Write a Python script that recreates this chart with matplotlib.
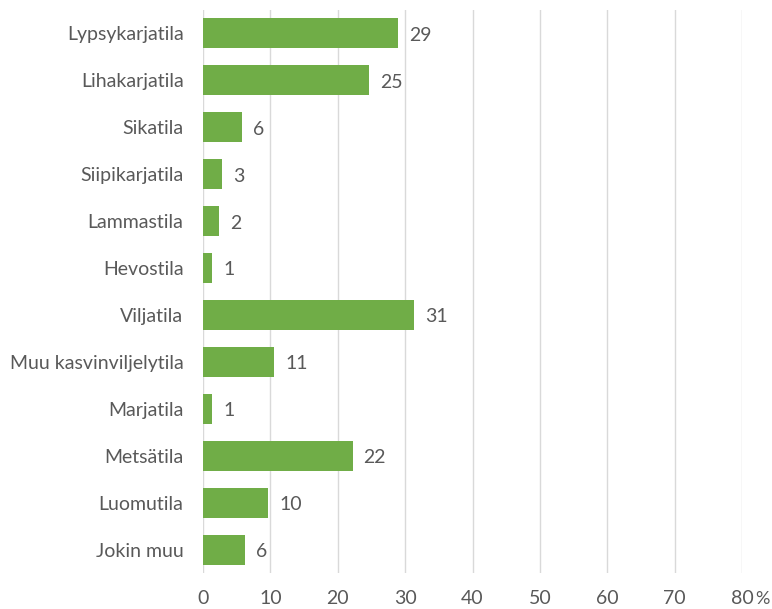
import matplotlib
matplotlib.use("Agg")
import matplotlib.pyplot as plt
import numpy as np

categories = ["Lypsykarjatila", "Lihakarjatila", "Sikatila", "Siipikarjatila",
              "Lammastila", "Hevostila", "Viljatila", "Muu kasvinviljelytila",
              "Marjatila", "Metsätila", "Luomutila", "Jokin muu"]
values = [29.0, 24.7, 5.8, 2.8, 2.4, 1.4, 31.3, 10.6, 1.4, 22.2, 9.7, 6.3]
labels = ["29", "25", "6", "3", "2", "1", "31", "11", "1", "22", "10", "6"]
xticks = [0, 10, 20, 30, 40, 50, 60, 70, 80]

plt.rcParams['font.family'] = ['Lato', 'DejaVu Sans']
txt = '#595959'

fig = plt.figure(figsize=(7.72, 6.09), dpi=100)
ax = fig.add_axes([203 / 772, 1 - 573 / 609, (742 - 203) / 772, (573 - 10) / 609])

y = np.arange(len(categories))
bars = ax.barh(y, values, height=0.64, color='#70AD47', zorder=3)
for b, lab in zip(bars, labels):
    ax.text(b.get_width() + 1.6, b.get_y() + b.get_height() / 2 + 0.04, lab,
            va='center', ha='left', fontsize=14, color=txt)

ax.set_ylim(len(categories) - 0.5, -0.5)
ax.set_yticks(y)
ax.set_yticklabels(categories, fontsize=14, color=txt)
ax.set_xlim(0, 80)
ax.set_xticks(xticks)
ax.set_xticklabels([str(t) for t in xticks], fontsize=14, color=txt)
ax.tick_params(axis='y', length=0, pad=14)
ax.tick_params(axis='x', length=0, pad=12)
ax.grid(axis='x', color='#D9D9D9', linewidth=1, zorder=0)
for s in ax.spines.values():
    s.set_visible(False)

fig.text(762 / 772, 1 - 599 / 609, "%", ha='center', va='center', fontsize=13, color=txt)

fig.savefig("out.png", dpi=100)
